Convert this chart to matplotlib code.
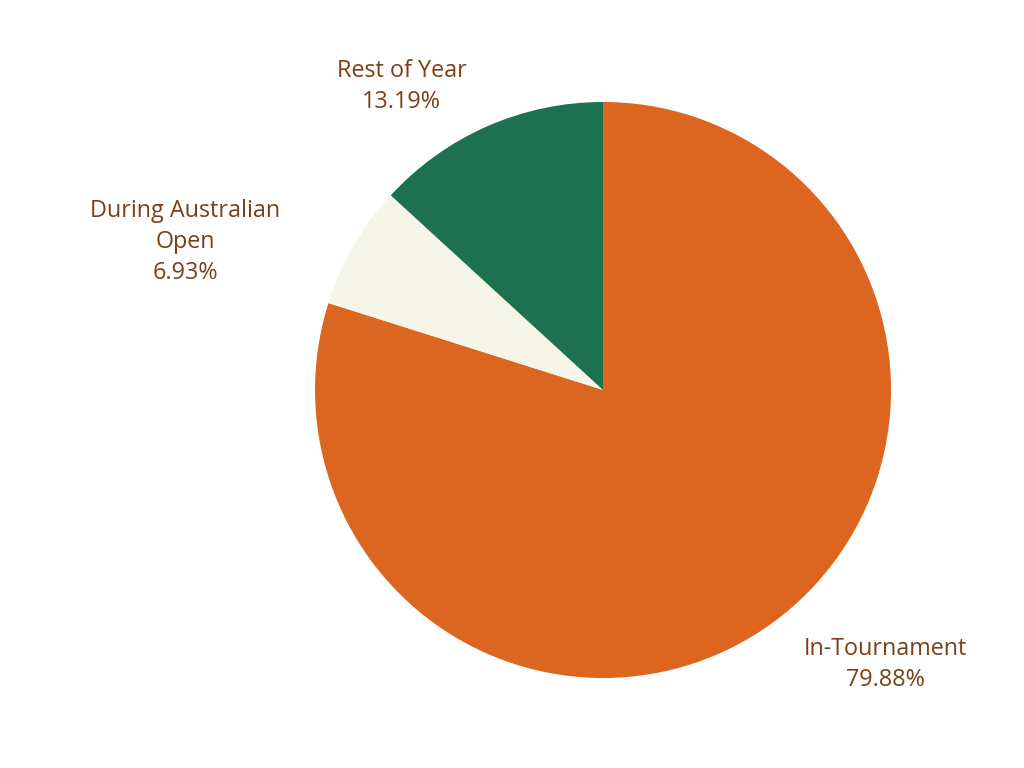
import matplotlib.pyplot as plt

labels = ["In-Tournament", "During Australian\nOpen", "Rest of Year"]
shares = [79.88, 6.93, 13.19]
colors = ["#DC6520", "#F5F5E8", "#1D7151"]
# where each label sits, in pie-radius units
label_xy = [(0.98, -0.952), (-1.45, 0.515), (-0.70, 1.053)]

text_color = "#7B3F1A"

fig = plt.figure(figsize=(10.24, 7.68), dpi=100)
ax = fig.add_axes([0.5889 - 0.28125, 0.4922 - 0.375, 0.5625, 0.75])

ax.pie(shares, colors=colors, startangle=90, counterclock=False,
       radius=1.0, wedgeprops=dict(linewidth=0))
ax.set_xlim(-1, 1)
ax.set_ylim(-1, 1)
ax.set_aspect("equal")
ax.axis("off")

for lab, val, (x, y) in zip(labels, shares, label_xy):
    ax.text(x, y, f"{lab}\n{val:.2f}%", ha="center", va="center",
            fontsize=16.8, color=text_color, family="Open Sans",
            linespacing=1.38, clip_on=False)

fig.savefig("out.png", dpi=100, facecolor="white")
